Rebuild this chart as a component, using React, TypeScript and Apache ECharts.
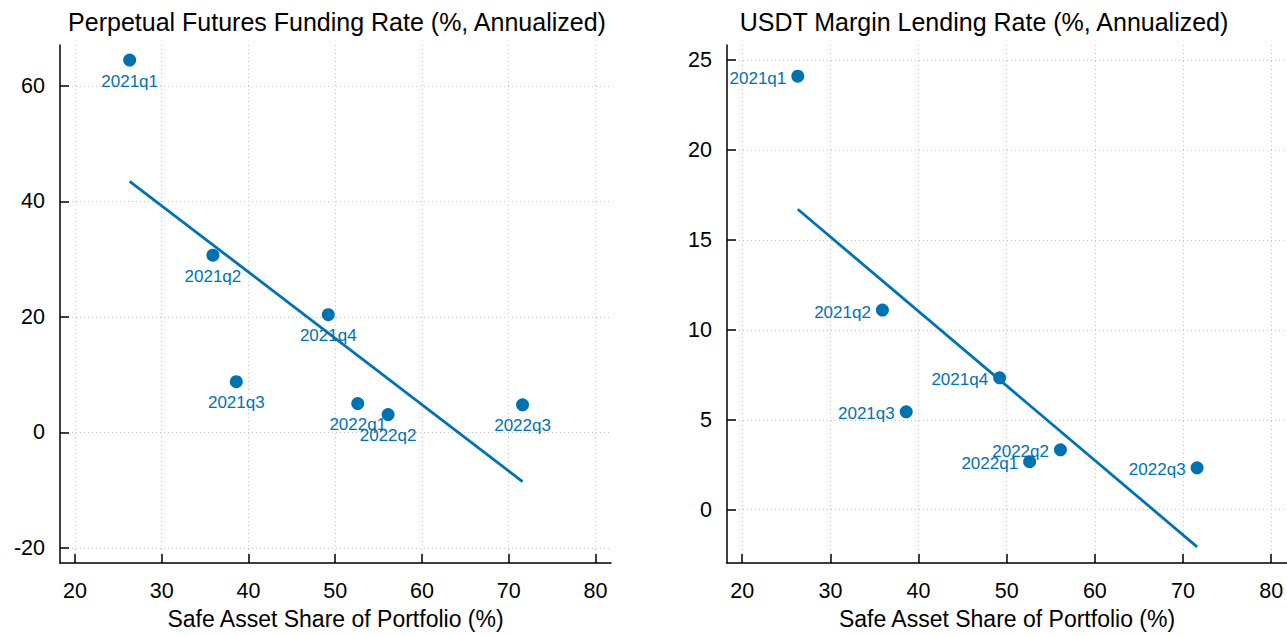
import React, { useEffect, useRef } from "react";
import * as echarts from "echarts";

const quarters = ["2021q1", "2021q2", "2021q3", "2021q4", "2022q1", "2022q2", "2022q3"];
const safeShare = [26.3, 35.9, 38.6, 49.2, 52.6, 56.1, 71.6];
const fundingRate = [64.5, 30.7, 8.8, 20.4, 5.0, 3.1, 4.8];
const lendingRate = [24.1, 11.1, 5.44, 7.33, 2.67, 3.33, 2.33];
const fitFundingX = [26.3, 71.6];
const fitFundingY = [43.5, -8.5];
const fitLendingX = [26.3, 71.6];
const fitLendingY = [16.7, -2.06];
const xTicks = [20, 30, 40, 50, 60, 70, 80];
const yTicksFunding = [-20, 0, 20, 40, 60];
const yTicksLending = [0, 5, 10, 15, 20, 25];

const BLUE = "#0072B2";
const FONT = "Liberation Sans";

export default function App() {
  const ref = useRef<HTMLDivElement>(null);
  useEffect(() => {
    if (!ref.current) return;
    const chart = echarts.init(ref.current, undefined, { renderer: "svg" });
    const gridLine = { show: true, lineStyle: { color: "#c4c4c4", width: 1, type: [1, 3] as any } };
    const mkX = (gridIndex: number) => ({
      type: "value",
      gridIndex,
      min: 18.27,
      max: 81.8,
      name: "Safe Asset Share of Portfolio (%)",
      nameLocation: "middle",
      nameGap: 44,
      nameTextStyle: { fontFamily: FONT, fontSize: 23, color: "#000" },
      axisLine: { show: true, onZero: false, lineStyle: { color: "#000", width: 1.5 } },
      axisTick: { show: true, inside: true, length: 9, customValues: xTicks, lineStyle: { color: "#000", width: 1.5 } },
      axisLabel: { customValues: xTicks, margin: 17, fontFamily: FONT, fontSize: 21.5, color: "#000" },
      splitLine: gridLine,
    });
    const mkY = (gridIndex: number, min: number, max: number, ticks: number[]) => ({
      type: "value",
      gridIndex,
      min,
      max,
      axisLine: { show: true, onZero: false, lineStyle: { color: "#000", width: 1.5 } },
      axisTick: { show: true, inside: true, length: 9, customValues: ticks, lineStyle: { color: "#000", width: 1.5 } },
      axisLabel: { customValues: ticks, margin: 15, fontFamily: FONT, fontSize: 21.5, color: "#000", padding: [3, 0, 0, 0] },
      splitLine: gridLine,
    });
    const scatter = (idx: number, ys: number[], pos: string, dist: number, off: number[]) => ({
      type: "scatter",
      xAxisIndex: idx,
      yAxisIndex: idx,
      symbolSize: 13,
      itemStyle: { color: BLUE, opacity: 1 },
      z: 3,
      data: safeShare.map((x, i) => ({ value: [x, ys[i]], name: quarters[i] })),
      label: {
        show: true,
        formatter: "{b}",
        position: pos,
        distance: dist,
        offset: off,
        color: BLUE,
        fontFamily: FONT,
        fontSize: 17,
      },
    });
    const fit = (idx: number, xs: number[], ys: number[]) => ({
      type: "line",
      xAxisIndex: idx,
      yAxisIndex: idx,
      symbol: "none",
      z: 2,
      lineStyle: { color: BLUE, width: 2.8 },
      data: xs.map((x, i) => [x, ys[i]]),
    });
    chart.setOption({
      animation: false,
      backgroundColor: "#fff",
      textStyle: { fontFamily: FONT },
      grid: [
        { left: 60, top: 45, width: 551, height: 518 },
        { left: 727, top: 45, width: 560, height: 518 },
      ],
      xAxis: [mkX(0), mkX(1)],
      yAxis: [mkY(0, -22.6, 67.1, yTicksFunding), mkY(1, -2.96, 25.83, yTicksLending)],
      graphic: [
        {
          type: "text",
          x: 337,
          y: 22,
          style: {
            text: "Perpetual Futures Funding Rate (%, Annualized)",
            fontFamily: FONT,
            fontSize: 25,
            fill: "#000",
            textAlign: "center",
            textVerticalAlign: "middle",
          },
        },
        {
          type: "text",
          x: 984,
          y: 22,
          style: {
            text: "USDT Margin Lending Rate (%, Annualized)",
            fontFamily: FONT,
            fontSize: 25,
            fill: "#000",
            textAlign: "center",
            textVerticalAlign: "middle",
          },
        },
      ],
      series: [
        fit(0, fitFundingX, fitFundingY),
        scatter(0, fundingRate, "bottom", 6, [0, 0]),
        fit(1, fitLendingX, fitLendingY),
        scatter(1, lendingRate, "left", 5, [0, 2]),
      ],
    });
    return () => chart.dispose();
  }, []);
  return (
    <div
      ref={ref}
      style={{ position: "fixed", left: 0, top: 0, width: 1287, height: 636, background: "#fff" }}
    />
  );
}
